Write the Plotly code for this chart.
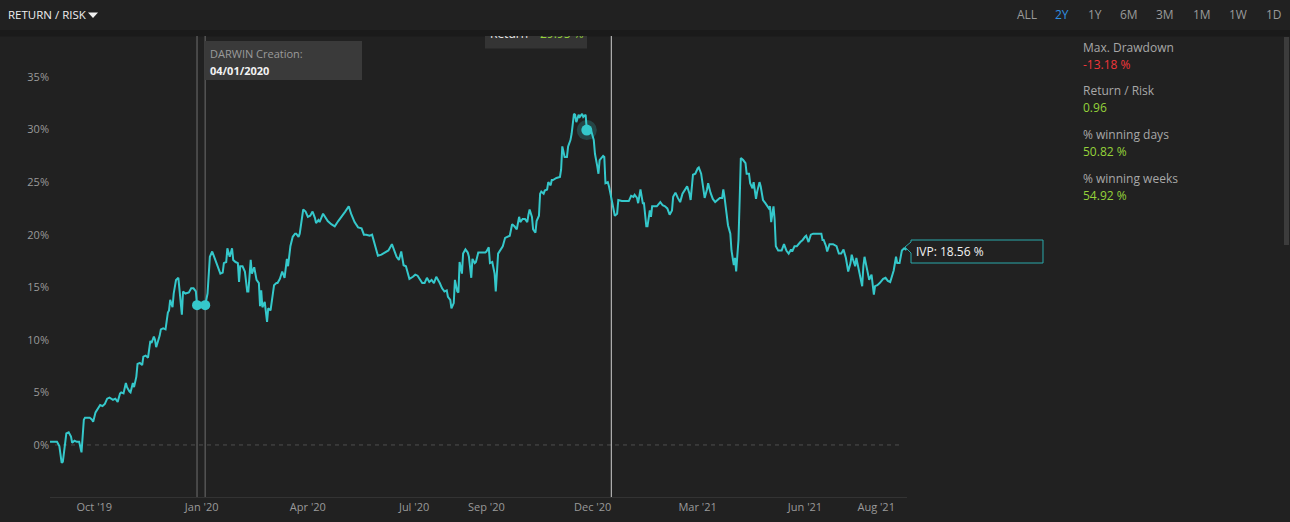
import pandas as pd
import plotly.graph_objects as go

# ---------------- data ----------------
START = "2019-08-24"  # first day of the 2Y window
# days since START and cumulative return (%)
day_offsets = [
    0, 6, 8, 10, 11, 14, 16, 18, 19, 21, 23, 25, 27, 29, 30, 34, 36, 37, 39, 41, 43, 45, 47, 49, 51, 54, 56, 58,
    60, 61, 63, 65, 66, 68, 69, 71, 72, 74, 75, 77, 79, 80, 82, 84, 86, 87, 89, 90, 91, 94, 95, 97, 99, 101, 102,
    103, 105, 106, 108, 110, 111, 113, 114, 116, 119, 121, 123, 125, 126, 133, 135, 137, 139, 141, 143, 145, 146,
    148, 149, 151, 152, 154, 156, 157, 159, 161, 162, 163, 165, 167, 169, 170, 172, 173, 175, 177, 179, 180, 181,
    182, 184, 186, 187, 189, 190, 192, 194, 195, 197,
    199, 201, 203, 204, 206, 208, 210, 211, 213, 214, 217, 219, 221, 223, 225, 227, 228, 230, 231, 234, 236, 238,
    241, 244, 247, 250, 253, 256, 258, 261, 264, 267, 269, 271, 274, 276, 279, 281, 284, 287, 290, 293, 295, 297,
    299, 301, 303, 305, 307, 308, 311, 313, 315, 317, 319, 321, 323, 325, 327, 329, 330, 331, 334, 336, 338, 340,
    341, 343, 344, 346, 347, 349, 350, 351, 353, 354, 356, 358, 359, 361, 362, 364, 365, 367, 370, 373, 374, 376,
    377, 379, 381, 382, 384, 386, 388, 390, 392, 394, 396, 398, 400, 402, 403, 405, 407, 409, 410, 411, 413, 414,
    416, 417, 419, 420, 421, 423, 424, 426, 427, 429, 430, 431, 434, 437, 438, 439, 441, 443, 444, 446, 447, 449,
    450, 451, 453, 454, 456, 457, 459, 460, 463, 464, 466, 467, 469, 470, 471,
    474, 475, 476, 478, 479, 481, 484, 486, 487, 490, 493, 496, 498, 500, 501, 503, 504, 505, 506, 508, 509, 511,
    512, 514, 515, 516, 518, 520, 523, 525, 527, 529, 531, 533, 534, 536, 538, 540, 542, 544, 546, 548, 549, 551,
    553, 555, 556, 558, 560, 561, 563, 564, 566, 568, 570, 572, 574, 576, 577, 578, 580, 581, 583, 584, 586, 587,
    588, 590, 591, 592, 594, 596, 597, 599, 600, 602, 603, 605, 606, 608, 609, 611, 613, 616, 617, 618, 620, 621,
    622, 624, 627, 629, 631, 633, 635, 636, 638, 640, 643, 645, 647, 648, 650, 652, 654, 657, 659, 661, 662, 663,
    665, 666, 668, 671, 674, 676, 678, 680, 682, 684, 686, 687, 688, 690, 691, 693, 694, 696, 697, 698, 700, 702,
    704, 706, 707, 709, 711, 714, 716, 718, 720, 723, 725, 726, 728, 730, 732, 734,
]
return_pct = [
    0.3, 0.3, -0.1, -1.7, -1.6, 1.1, 1.2, 0.8, 0.2, 0.4, 0.3, 0.3, -0.7, 2.4, 2.6, 2.6, 2.4, 2.2, 3.1, 3.5, 3.8, 3.7,
    3.9, 4.4, 4.5, 4.3, 4.4, 4.1, 4.9, 5.0, 4.9, 5.9, 5.5, 5.1, 5.0, 5.9, 5.5, 6.5, 7.7, 7.8, 7.6, 8.4, 8.5, 8.3,
    9.9, 9.7, 10.3, 10.0, 9.3, 10.4, 11.0, 11.1, 11.0, 12.6, 12.8, 13.8, 13.1, 14.4, 15.7, 15.9, 14.9, 12.4, 14.6,
    14.4, 14.5, 14.9, 14.9, 14.6, 13.3, 13.3, 14.4, 17.9, 18.4, 17.8, 17.3, 16.5, 16.3, 16.4, 17.3, 17.4, 18.7, 17.9,
    18.7, 17.6, 17.4, 17.3, 15.5, 17.0, 17.0, 16.5, 14.6, 14.6, 17.6, 16.3, 16.9, 15.7, 15.4, 13.2, 14.7, 13.1, 13.6,
    11.7, 13.0, 12.8, 13.8, 15.2, 15.4, 15.4, 15.8,
    16.5, 15.9, 17.7, 17.0, 18.9, 19.8, 20.1, 20.1, 19.8, 20.1, 22.4, 22.2, 21.7, 21.8, 22.2, 21.6, 21.1, 21.4, 21.2,
    22.0, 21.7, 21.3, 21.0, 20.8, 21.3, 21.7, 22.2, 22.7, 22.0, 21.2, 20.7, 20.6, 20.0, 20.0, 19.9, 20.0, 18.9, 18.0,
    18.1, 18.3, 18.5, 19.1, 18.4, 17.9, 17.6, 18.4, 17.1, 17.0, 16.2, 15.8, 16.0, 16.2, 16.1, 15.7, 15.4, 15.4, 15.9,
    15.5, 15.7, 15.4, 15.7, 16.0, 15.4, 14.9, 14.6, 14.7, 14.1, 13.8, 13.0, 13.5, 15.7, 14.6, 14.5, 17.4, 16.3, 18.2,
    18.6, 18.3, 17.9, 15.9, 17.7, 17.3, 17.4, 18.3, 18.3, 18.3, 18.4, 18.8, 17.3, 17.4, 16.3, 14.6, 18.2, 18.6, 18.9,
    19.7, 19.8, 19.9, 21.0, 20.8, 20.5, 21.7, 21.2, 21.5, 21.5, 21.2, 21.9, 22.4, 21.7, 20.5, 20.2, 21.3, 21.8, 23.9,
    24.1, 23.9, 24.2, 24.3, 25.0, 24.7, 25.2, 25.2, 25.4, 25.5, 26.2, 28.4, 27.4, 27.4, 28.4, 29.0, 29.6, 31.5, 31.4,
    30.7, 31.4, 31.2, 31.5, 31.2, 31.4, 29.95, 29.8, 29.8, 29.0, 27.7, 26.5, 25.8, 27.1,
    27.5, 27.4, 24.9, 25.0, 24.6, 23.5, 21.8, 22.0, 23.3, 23.2, 23.2, 23.2, 23.7, 23.6, 23.8, 23.5, 23.0, 23.5, 24.3,
    23.0, 23.0, 20.8, 20.8, 22.3, 21.7, 22.7, 22.7, 22.7, 23.1, 22.8, 22.7, 22.5, 21.9, 22.3, 23.6, 24.0, 23.5, 23.1,
    23.9, 24.3, 24.6, 23.9, 23.3, 25.7, 25.8, 26.3, 26.4, 25.8, 24.4, 23.5, 24.3, 24.9, 24.0, 23.4, 23.1, 23.3, 23.5,
    23.5, 24.3, 23.6, 22.0, 20.9, 20.1, 18.5, 17.1, 17.8, 16.5, 19.5, 23.3, 27.3, 27.1, 26.8, 25.8, 25.8, 24.9, 24.4,
    25.0, 23.4, 24.1, 25.0, 24.6, 23.3, 23.0, 22.5, 22.7, 21.2, 22.7, 21.4, 18.9, 18.5, 18.5, 19.1, 18.5, 18.2, 18.6,
    18.4, 18.9, 18.9, 19.3, 19.5, 19.8, 19.9, 19.3, 20.0, 20.1, 20.1, 20.1, 20.1, 19.5, 19.5, 18.9, 18.4, 19.1, 19.1,
    18.9, 18.2, 18.2, 18.6, 17.8, 16.5, 17.3, 18.1, 17.7, 17.0, 17.8, 16.6, 16.2, 15.1, 17.0, 17.9, 16.8, 15.7, 16.2,
    14.3, 15.1, 15.2, 15.4, 15.8, 15.9, 15.6, 15.5, 16.6, 17.9, 17.3, 17.3, 18.5, 18.7, 18.56,
]

x_tick_dates = ["2019-10-01", "2020-01-01", "2020-04-01", "2020-07-01", "2020-09-01",
                "2020-12-01", "2021-03-01", "2021-06-01", "2021-08-01"]
x_tick_labels = ["Oct '19", "Jan '20", "Apr '20", "Jul '20", "Sep '20",
                 "Dec '20", "Mar '21", "Jun '21", "Aug '21"]
y_tick_vals = [0, 5, 10, 15, 20, 25, 30, 35]
y_tick_labels = [f"{v}%" for v in y_tick_vals]

creation_marks = ["2019-12-28", "2020-01-04"]
creation_value = 13.3
creation_label = "04/01/2020"
hover_point_date = "2020-11-26"
hover_point_value = 29.95
crosshair_date = "2020-12-17"
ivp_value = 18.56

stat_labels = ["Max. Drawdown", "Return / Risk", "% winning days", "% winning weeks"]
stat_values = ["-13.18 %", "0.96", "50.82 %", "54.92 %"]
stat_colors = ["#f0363a", "#95d33a", "#95d33a", "#95d33a"]

range_buttons = ["ALL", "2Y", "1Y", "6M", "3M", "1M", "1W", "1D"]
active_button = "2Y"

# ---------------- geometry ----------------
W_PX, H_PX = 1290, 522
L, R, T, B = 50, 907, 36, 497
PW, PH = R - L, B - T


def px(x):
    return (x - L) / PW


def py(y):
    return (B - y) / PH


start = pd.Timestamp(START)
dates = start + pd.to_timedelta(day_offsets, unit="D")
x_end = start + pd.Timedelta(days=734.4)

LINE = "#35c8cb"
BG = "#212121"
GREY = "#9a9a9a"
FONT = "Open Sans"

fig = go.Figure()

fig.add_trace(go.Scatter(x=dates, y=return_pct, mode="lines",
                         line=dict(color=LINE, width=2), hoverinfo="skip"))

# creation markers
fig.add_trace(go.Scatter(x=pd.to_datetime(creation_marks), y=[creation_value] * 2, mode="markers",
                         marker=dict(color=LINE, size=10), hoverinfo="skip"))
# hovered point (halo + dot)
fig.add_trace(go.Scatter(x=[pd.Timestamp(hover_point_date)], y=[hover_point_value], mode="markers",
                         marker=dict(color="rgba(53,200,203,0.22)", size=20), hoverinfo="skip"))
fig.add_trace(go.Scatter(x=[pd.Timestamp(hover_point_date)], y=[hover_point_value], mode="markers",
                         marker=dict(color=LINE, size=11), hoverinfo="skip"))

# clipped tooltip text at the top of the plot ("Return 29.95 %")
tip_y = (445 - 35) / 10.514
fig.add_trace(go.Scatter(
    x=[start + pd.Timedelta(days=(490 - L) / 1.167), start + pd.Timedelta(days=(540 - L) / 1.167)],
    y=[tip_y, tip_y], mode="text", text=["Return", f"{hover_point_value:.2f} %"],
    textposition="middle right", textfont=dict(family=FONT, size=12, color=["#e8e8e8", "#95d33a"]),
    cliponaxis=True, hoverinfo="skip"))

shapes = []
# header shadow band
shapes.append(dict(type="rect", xref="paper", yref="paper", x0=px(0), x1=px(W_PX), y0=py(36.5), y1=py(30),
                   fillcolor="#1a1a1a", line=dict(width=0), layer="below"))
# scrollbar
shapes.append(dict(type="rect", xref="paper", yref="paper", x0=px(1284), x1=px(1289), y0=py(245), y1=py(37),
                   fillcolor="#3c3c3c", line=dict(width=0), layer="below"))
# zero dashed line
shapes.append(dict(type="line", xref="paper", yref="y", x0=px(55), x1=px(903), y0=0, y1=0,
                   line=dict(color="#4d4d4d", width=1, dash="4px,4px"), layer="below"))
# creation plot lines
for d in creation_marks:
    shapes.append(dict(type="line", xref="x", yref="paper", x0=d, x1=d, y0=0, y1=1,
                       line=dict(color="#555555", width=1.5), layer="below"))
# crosshair
shapes.append(dict(type="line", xref="x", yref="paper", x0=crosshair_date, x1=crosshair_date, y0=0, y1=1,
                   line=dict(color="#cfcfcf", width=1), layer="below"))
# creation label box
shapes.append(dict(type="rect", xref="paper", yref="paper", x0=px(205), x1=px(362), y0=py(80), y1=py(41),
                   fillcolor="#3a3a3a", line=dict(width=0), layer="below"))
# return tooltip box (cut by header)
shapes.append(dict(type="rect", xref="paper", yref="paper", x0=px(485), x1=px(587), y0=py(48.5), y1=py(36),
                   fillcolor="#343434", line=dict(width=0), layer="below"))
# IVP label box with pointer
pts = [(911, 240), (1043, 240), (1043, 263), (911, 263), (911, 253), (905, 247), (911, 242)]
path = "M " + " L ".join(f"{px(a):.5f},{py(b):.5f}" for a, b in pts) + " Z"
shapes.append(dict(type="path", xref="paper", yref="paper", path=path, fillcolor=BG,
                   line=dict(color="#2aa9ab", width=1), layer="above"))
# dropdown triangle in header
tri = [(88, 12.5), (98, 12.5), (93, 18)]
tpath = "M " + " L ".join(f"{px(a):.5f},{py(b):.5f}" for a, b in tri) + " Z"
shapes.append(dict(type="path", xref="paper", yref="paper", path=tpath, fillcolor="#f0f0f0",
                   line=dict(width=0)))

ann = []


def text(x, y, s, color, size=12, anchor="left", weight=None):
    f = dict(family=FONT, size=size, color=color)
    if weight:
        f["weight"] = weight
    ann.append(dict(xref="paper", yref="paper", x=px(x), y=py(y), text=s, showarrow=False,
                    xanchor=anchor, yanchor="middle", font=f))


text(6, 15, "RETURN / RISK", "#eeeeee", 11.5)
btn_x = [1027, 1062, 1095, 1129, 1165, 1202, 1238, 1274]
for bx, b in zip(btn_x, range_buttons):
    text(bx, 15, b, "#2f8fe0" if b == active_button else GREY, 12, anchor="center")

text(208, 53, "DARWIN Creation:", GREY, 11)
text(208, 70, creation_label, "#f2f2f2", 11, weight="bold")

for i, (lab, val, col) in enumerate(zip(stat_labels, stat_values, stat_colors)):
    y0 = 47 + i * 43.7
    text(1081, y0, lab, "#a8a8a8", 12)
    text(1081, y0 + 17, val, col, 12)

text(914, 251.5, f"IVP: {ivp_value:.2f} %", "#f2f2f2", 12)

fig.update_layout(
    width=W_PX, height=H_PX,
    margin=dict(l=L, r=W_PX - R, t=T, b=H_PX - B, autoexpand=False),
    paper_bgcolor=BG, plot_bgcolor="rgba(0,0,0,0)",
    showlegend=False,
    font=dict(family=FONT, color=GREY, size=11),
    shapes=shapes, annotations=ann,
    xaxis=dict(range=[start, x_end], tickvals=pd.to_datetime(x_tick_dates), ticktext=x_tick_labels,
               showgrid=False, zeroline=False, showline=True, linecolor="#333333", linewidth=1,
               ticks="", tickfont=dict(size=11, color=GREY, family=FONT), fixedrange=True),
    yaxis=dict(range=[-4.95, 38.9], tickvals=y_tick_vals, ticktext=y_tick_labels, showgrid=False,
               zeroline=False, showline=False, ticks="", tickfont=dict(size=11, color=GREY, family=FONT),
               fixedrange=True),
    hovermode=False,
)

fig.write_html("out.html", config=dict(displayModeBar=False))
